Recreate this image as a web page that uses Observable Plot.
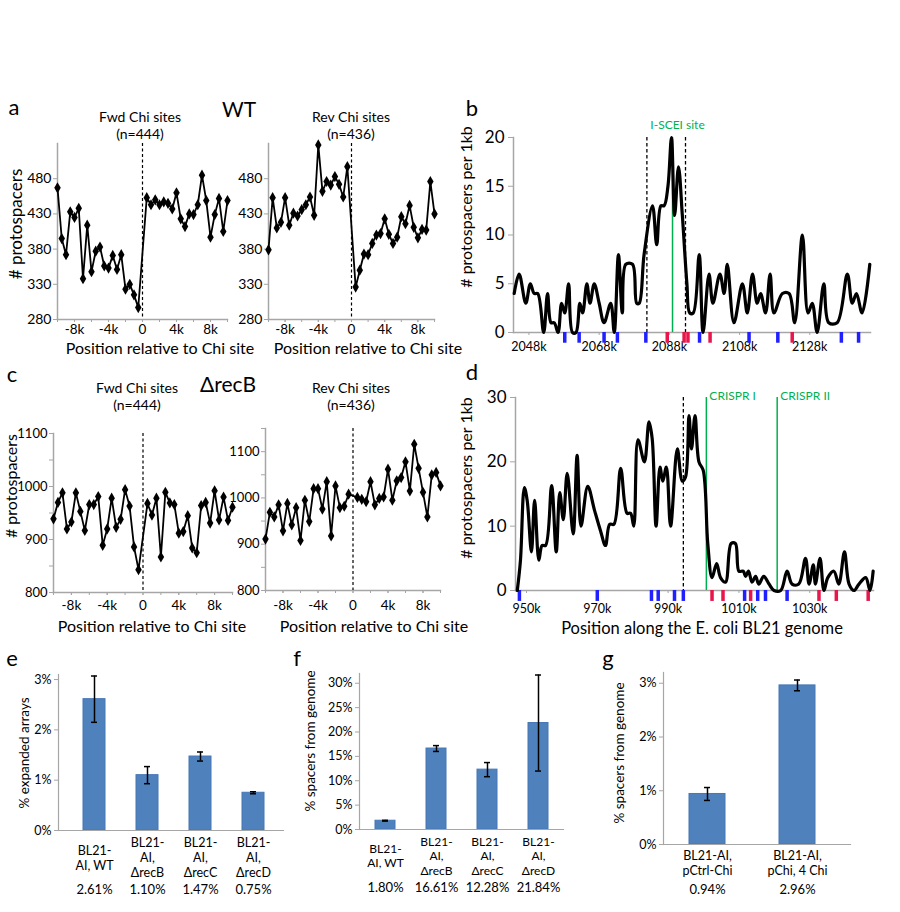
<!DOCTYPE html>
<html><head><meta charset="utf-8">
<script src="https://cdn.jsdelivr.net/npm/d3@7"></script>
<script src="https://cdn.jsdelivr.net/npm/@observablehq/plot@0.6"></script>
<style>
body{margin:0;background:#fff;}
#root{position:relative;width:900px;height:912px;background:#fff;font-family:Lato,'Open Sans',sans-serif;color:#000;overflow:hidden}
.lbl{position:absolute;white-space:nowrap;transform:translate(-50%,-50%);line-height:1;text-align:center}
.rot{transform:translate(-50%,-50%) rotate(-90deg)}
</style></head><body><div id="root"></div><script>
// ---------- data ----------
const chiBins = [-10000,-9500,-9000,-8500,-8000,-7500,-7000,-6500,-6000,-5500,-5000,-4500,-4000,-3500,-3000,-2500,-2000,-1500,-1000,-500,
  500,1000,1500,2000,2500,3000,3500,4000,4500,5000,5500,6000,6500,7000,7500,8000,8500,9000,9500,10000];
const wtFwd = [467,395,372,433,425,438,338,414,348,377,383,356,353,371,351,372,323,330,315,297,
  453,443,450,443,447,445,437,460,423,412,430,429,443,485,449,397,429,452,405,449];
const wtRev = [379,453,410,418,453,414,431,427,436,443,454,428,528,462,476,471,483,472,454,497,
  326,350,373,372,388,400,402,423,401,388,397,426,416,442,411,396,408,407,476,430];
const recBFwd = [939,970,988,920,933,988,953,917,966,966,981,889,920,978,923,938,994,963,886,843,
  968,946,978,867,989,969,966,912,915,945,884,875,964,970,931,992,937,980,936,961];
const recBRev = [911,969,959,985,929,988,942,979,908,995,949,1020,1020,976,1035,918,1026,979,982,1008,
  1001,997,992,1035,985,999,1002,1062,995,1037,1044,1078,1015,1116,1064,1012,959,1050,1055,1026];
const chiTickVals = [-8000,-4000,0,4000,8000];
const chiTickLabels = ["-8k","-4k","0","4k","8k"];
const chiMinor = [-10000,-8000,-6000,-4000,-2000,0,2000,4000,6000,8000,10000];
const wtYTicks = [280,330,380,430,480];
const recBYTicks = [800,900,1000,1100];
const recBYMinor = [850,950,1050,1150];

// panel b (kb positions)
const bPos = [2043.8,2045.2,2047.1,2048.4,2049.5,2050.5,2052.2,2053.3,2054.3,2055.2,2056.3,2057.3,2058.2,2059.3,2060.4,2061.4,2062.5,2063.3,2064.5,2065.4,2066.6,2068.0,2069.4,2071.3,2072.3,2073.5,2074.6,2075.6,2077.5,2078.7,2079.4,2080.8,2083.2,2084.4,2085.6,2086.5,2087.6,2088.6,2089.5,2090.6,2091.7,2093.0,2093.8,2094.8,2096.5,2097.6,2099.3,2100.4,2102.4,2103.6,2104.5,2106.4,2108.8,2110.2,2111.7,2113.0,2114.0,2115.4,2116.7,2117.8,2120.2,2122.1,2123.7,2125.9,2127.5,2128.7,2130.1,2132.0,2133.4,2135.8,2138.7,2140.1,2141.3,2142.9,2145.1];
const bVal = [4,6,3,5,4,4,0,4,1,1,0,3,2,5,0,0,3,2,5,3,5,3,1,3,0,8,2,7,7,3,3,8,13,9,13,13,15,20,12,17,12,5,2,2,8,0,6,3,6,4,7,1,5,2,6,3,4,2,6,2,4,4,1,10,2,3,0,5,1,1,6,3,4,2,7];
const bBlue = [2058.2,2062.3,2069.4,2073.2,2081.3,2096.6,2110.7,2118.9,2137.0,2141.9];
const bRed = [2087.4,2092.2,2093.3,2099.6,2123.0];
const bDashed = [2081.6,2092.6];
const bGreen = [2088.9];
const bGreenLabels = ["I-SCEI site"];
const bXTicks = [2048,2068,2088,2108,2128];
const bYTicks = [0,5,10,15,20];

// panel d
const dPos = [947.4,948.3,949.4,950.2,951.4,952.3,953.5,954.4,955.4,957.1,958.4,959.4,960.4,961.5,963.2,964.3,965.4,967.3,969.2,970.9,972.3,973.5,974.7,976.6,978.4,979.4,980.3,981.5,983.3,984.6,985.5,986.6,987.7,988.5,989.5,990.7,992.6,994.0,994.9,995.9,996.6,997.6,998.7,999.9,1001.2,1002.4,1003.7,1004.8,1006.2,1007.8,1009.0,1010.0,1011.2,1011.9,1012.7,1013.7,1014.7,1015.6,1017.0,1018.5,1019.9,1021.8,1023.6,1025.0,1026.9,1028.8,1029.8,1031.0,1031.6,1032.9,1034.0,1035.1,1036.8,1038.2,1039.8,1041.1,1042.5,1043.9,1045.8,1047.0,1047.9];
const dVal = [0,4.7,16,14,6,14,4.7,7,7,16.3,6,15.2,11,18.2,8.8,21,10,16.2,12.5,9.3,7,10.3,10.3,19,12,12,10,23.4,20,26.2,23.6,10,19.2,17,19.2,10,22,17,17.6,27.2,22,27.2,20,18.7,7.3,2,4.2,2,1.3,7.3,7.3,3,3,2.2,3,1.3,2.2,1,2.2,1,0,0,3,1,1,5,1,4,1,5,0,2,3,1,6,1,0,1,2,0,3];
const dBlue = [948.0,970.0,985.3,987.2,991.8,994.3,1011.6,1015.3,1017.5,1023.6];
const dRed = [1002.4,1005.5,1013.3,1032.6,1037.5,1046.5];
const dDashed = [994.3];
const dGreen = [1000.8,1020.8];
const dGreenLabels = ["CRISPR I","CRISPR II"];
const dXTicks = [950,970,990,1010,1030];
const dYTicks = [0,10,20,30];

// panels e, f, g
const efCats = ["BL21-\nAI, WT","BL21-\nAI,\nΔrecB","BL21-\nAI,\nΔrecC","BL21-\nAI,\nΔrecD"];
const eVals = [2.61,1.10,1.47,0.75];
const eErr = [0.46,0.17,0.09,0.02];
const eLabels = ["2.61%","1.10%","1.47%","0.75%"];
const fVals = [1.80,16.61,12.28,21.84];
const fErr = [0.08,0.6,1.45,9.85];
const fLabels = ["1.80%","16.61%","12.28%","21.84%"];
const gCats = ["BL21-AI,\npCtrl-Chi","BL21-AI,\npChi, 4 Chi"];
const gVals = [0.94,2.96];
const gErr = [0.12,0.10];
const gLabels = ["0.94%","2.96%"];
const eYTicks = [0,1,2,3];
const fYTicks = [0,5,10,15,20,25,30];
const gYTicks = [0,1,2,3];

// ---------- helpers ----------
const NARROW = "'Liberation Sans Narrow','Arial Narrow',Lato,sans-serif";
const SANS = "Lato,'Open Sans',sans-serif";
const AXIS = "#a6a6a6";
const BLUE = "#1f1fff", RED = "#e8164b", GREEN = "#00b050";
const root = document.getElementById("root");
function place(node, left, top) {
  node.style.position = "absolute"; node.style.left = left + "px"; node.style.top = top + "px";
  root.appendChild(node);
}
function label(text, x, y, size, opts = {}) {
  const d = document.createElement("div");
  d.className = "lbl" + (opts.rotate ? " rot" : "");
  const lines = text.split("\n");
  lines.forEach((t, i) => { if (i) d.appendChild(document.createElement("br")); d.appendChild(document.createTextNode(t)); });
  d.style.left = x + "px"; d.style.top = y + "px"; d.style.fontSize = size + "px";
  if (opts.lh) d.style.lineHeight = opts.lh;
  if (opts.font) d.style.fontFamily = opts.font;
  root.appendChild(d);
}

function chiPanel(o) {
  const data = chiBins.map((x, i) => ({x, y: o.values[i]}));
  return Plot.plot({
    width: o.width, height: o.height,
    marginLeft: o.mL, marginRight: o.mR, marginTop: o.mT, marginBottom: o.mB,
    style: {fontFamily: NARROW, background: "transparent", overflow: "visible"},
    x: {domain: [-10000, 10000]},
    y: {domain: o.yDomain},
    marks: [
      Plot.frame({anchor: "left", stroke: AXIS, strokeWidth: 1.5}),
      Plot.frame({anchor: "bottom", stroke: AXIS, strokeWidth: 1.5}),
      o.yMinor ? Plot.axisY({ticks: o.yMinor, tickSize: 4, stroke: AXIS, fill: "none", label: null}) : null,
      Plot.axisY({ticks: o.yTicks, tickSize: 4, tickPadding: 2, stroke: AXIS, fill: "black", fontSize: o.yFont || 14,
        tickFormat: d => String(d), label: null}),
      Plot.axisX({ticks: chiMinor, tickSize: 3, stroke: AXIS, fill: "none", label: null}),
      Plot.axisX({ticks: chiTickVals, tickSize: 3, tickPadding: o.xPad, stroke: AXIS, fill: "black", fontSize: 13.5,
        tickFormat: d => chiTickLabels[chiTickVals.indexOf(d)], label: null}),
      Plot.ruleX([0], {stroke: "black", strokeWidth: 1.2, strokeDasharray: "3,2.5"}),
      Plot.line(data, {x: "x", y: "y", stroke: "black", strokeWidth: 1.8}),
      Plot.dot(data, {x: "x", y: "y", symbol: "diamond", r: 3.4, fill: "black"})
    ]
  });
}

function genomePanel(o) {
  const data = o.pos.map((x, i) => ({x, y: o.vals[i]}));
  const greens = o.green.map((x, i) => ({x, t: o.greenLabels[i]}));
  return Plot.plot({
    width: o.width, height: o.height,
    marginLeft: o.mL, marginRight: o.mR, marginTop: o.mT, marginBottom: o.mB,
    style: {fontFamily: SANS, background: "transparent", overflow: "visible"},
    x: {domain: o.xDomain},
    y: {domain: o.yDomain},
    marks: [
      Plot.frame({anchor: "left", stroke: AXIS, strokeWidth: 1.5}),
      Plot.frame({anchor: "bottom", stroke: AXIS, strokeWidth: 1.5}),
      Plot.axisY({ticks: o.yTicks, tickSize: 5, tickPadding: 4, stroke: AXIS, fill: "black", fontSize: 17, label: null}),
      Plot.axisX({ticks: o.xTicks, tickSize: 3, tickPadding: o.xPad, stroke: AXIS, fill: "black", fontSize: 12.5,
        tickFormat: d => d + "k", label: null}),
      Plot.ruleX(o.dashed, {x: d => d, stroke: "black", strokeWidth: 1.3, strokeDasharray: "3.5,2.5"}),
      Plot.ruleX(greens, {x: "x", stroke: GREEN, strokeWidth: 1.5}),
      Plot.text(greens, {x: "x", y: o.yDomain[1], text: "t", fill: GREEN, fontSize: 12, fontFamily: NARROW,
        textAnchor: o.greenAnchor, dx: o.greenDx, dy: o.greenDy}),
      Plot.ruleX(o.blue, {x: d => d, y1: 0, y2: -o.markDepth, stroke: BLUE, strokeWidth: 3.5}),
      Plot.ruleX(o.red, {x: d => d, y1: 0, y2: -o.markDepth, stroke: RED, strokeWidth: 3.5}),
      Plot.line(data, {x: "x", y: "y", curve: "catmull-rom", stroke: "black", strokeWidth: 3.2})
    ]
  });
}

function barPanel(o) {
  const data = o.cats.map((c, i) => ({c, v: o.vals[i], e: o.errs[i], p: o.labels[i]}));
  return Plot.plot({
    width: o.width, height: o.height,
    marginLeft: o.mL, marginRight: o.mR, marginTop: o.mT, marginBottom: o.mB,
    style: {fontFamily: SANS, background: "transparent", overflow: "visible"},
    x: {domain: o.cats, paddingInner: o.pi, paddingOuter: o.po, insetLeft: o.iL || 0, insetRight: o.iR || 0},
    y: {domain: o.yDomain},
    marks: [
      Plot.barY(data, {x: "c", y: "v", fill: "#4f81bd", stroke: "#4677b5", strokeWidth: 1}),
      Plot.ruleX(data, {x: "c", y1: d => d.v - d.e, y2: d => d.v + d.e, stroke: "black", strokeWidth: 1.5}),
      Plot.tickY(data, {x: "c", y: d => d.v - d.e, stroke: "black", strokeWidth: 1.5, insetLeft: o.cap, insetRight: o.cap}),
      Plot.tickY(data, {x: "c", y: d => d.v + d.e, stroke: "black", strokeWidth: 1.5, insetLeft: o.cap, insetRight: o.cap}),
      Plot.frame({anchor: "left", stroke: AXIS, strokeWidth: 1.2}),
      Plot.frame({anchor: "bottom", stroke: AXIS, strokeWidth: 1.2}),
      Plot.axisY({ticks: o.yTicks, tickSize: 4, tickPadding: 3, stroke: AXIS, fill: "black", fontSize: 12.5,
        tickFormat: d => d + "%", label: null}),
      Plot.axisX({ticks: [], label: null}),
      Plot.text(data, {x: "c", text: "c", frameAnchor: "bottom", dy: o.catDy, lineAnchor: "middle",
        lineHeight: 1.2, fontSize: o.catFont, fill: "black"}),
      Plot.text(data, {x: "c", text: "p", frameAnchor: "bottom", dy: o.pctDy, fontSize: 13, fill: "black"})
    ]
  });
}

// ---------- panel a ----------
place(chiPanel({values: wtFwd, yDomain: [280, 530], yTicks: wtYTicks, width: 240, height: 205,
  mL: 57, mR: 13, mT: 8, mB: 21, xPad: 2}), 0, 135);
place(chiPanel({values: wtRev, yDomain: [280, 530], yTicks: wtYTicks, width: 230, height: 205,
  mL: 38, mR: 26, mT: 8, mB: 21, xPad: 2}), 230, 135);
label("a", 14, 107, 22);
label("WT", 239, 108, 21);
label("Fwd Chi sites\n(n=444)", 140, 126, 14, {lh: 1.2});
label("Rev Chi sites\n(n=436)", 351, 126, 14, {lh: 1.2});
label("Position relative to Chi site", 160, 348, 16);
label("Position relative to Chi site", 368, 348, 16);
label("# protospacers", 15, 224, 17, {rotate: true});

// ---------- panel b ----------
place(genomePanel({pos: bPos, vals: bVal, blue: bBlue, red: bRed, dashed: bDashed, green: bGreen, greenLabels: bGreenLabels,
  xDomain: [2043.6, 2145.3], xTicks: bXTicks, yDomain: [0, 20], yTicks: bYTicks, markDepth: 1.1,
  greenAnchor: "middle", greenDx: 5, greenDy: -12,
  width: 410, height: 240, mL: 43, mR: 10, mT: 17, mB: 28, xPad: 7}), 470, 120);
label("b", 472, 108, 22);
label("# protospacers per 1kb", 466, 207, 16, {rotate: true});

// ---------- panel c ----------
place(chiPanel({values: recBFwd, yDomain: [800, 1100], yTicks: recBYTicks, yMinor: [850, 950, 1050], yFont: 13, width: 240, height: 195,
  mL: 53, mR: 8, mT: 13, mB: 23, xPad: 5}), 0, 420);
place(chiPanel({values: recBRev, yDomain: [800, 1150], yTicks: recBYTicks, yMinor: recBYMinor, yFont: 13, width: 230, height: 200,
  mL: 35, mR: 20, mT: 13, mB: 25, xPad: 7}), 230, 415);
label("c", 12, 374, 22);
label("ΔrecB", 228, 383, 21);
label("Fwd Chi sites\n(n=444)", 137, 397, 14, {lh: 1.2});
label("Rev Chi sites\n(n=436)", 351, 397, 14, {lh: 1.2});
label("Position relative to Chi site", 152, 626, 16);
label("Position relative to Chi site", 374, 626, 16);
label("# protospacers", 11, 486, 16, {rotate: true});

// ---------- panel d ----------
place(genomePanel({pos: dPos, vals: dVal, blue: dBlue, red: dRed, dashed: dDashed, green: dGreen, greenLabels: dGreenLabels,
  xDomain: [946.9, 1048.0], xTicks: dXTicks, yDomain: [0, 30], yTicks: dYTicks, markDepth: 1.7,
  greenAnchor: "start", greenDx: 3, greenDy: -1,
  width: 410, height: 235, mL: 45, mR: 7, mT: 12, mB: 30, xPad: 11}), 470, 385);
label("d", 472, 372, 22);
label("# protospacers per 1kb", 466, 478, 16, {rotate: true});
label("Position along the E. coli BL21 genome", 702, 628, 16.5);

// ---------- panels e, f, g ----------
place(barPanel({cats: efCats, vals: eVals, errs: eErr, labels: eLabels, yDomain: [0, 3.1], yTicks: eYTicks,
  pi: 0.58, po: 0.35, iL: 6, cap: 8, catDy: 27, pctDy: 63, catFont: 12.5,
  width: 300, height: 250, mL: 58, mR: 17, mT: 14, mB: 80}), 0, 660);
label("e", 12, 658, 22);
label("% expanded arrays", 25, 753, 13.5, {rotate: true});

place(barPanel({cats: efCats, vals: fVals, errs: fErr, labels: fLabels, yDomain: [0, 32], yTicks: fYTicks,
  pi: 0.61, po: 0.29, cap: 7, catDy: 26, pctDy: 62, catFont: 12,
  width: 280, height: 250, mL: 59, mR: 17, mT: 13, mB: 81}), 300, 660);
label("f", 297, 658, 22);
label("% spacers from genome", 311, 741, 13.5, {rotate: true});

place(barPanel({cats: gCats, vals: gVals, errs: gErr, labels: gLabels, yDomain: [0, 3.2], yTicks: gYTicks,
  pi: 0.6, po: 0.28, iR: 10, cap: 15, catDy: 18, pctDy: 49, catFont: 12.5,
  width: 290, height: 250, mL: 63, mR: 40, mT: 12, mB: 66}), 600, 660);
label("g", 608, 658, 22);
label("% spacers from genome", 620, 753, 13.5, {rotate: true});
</script></body></html>
